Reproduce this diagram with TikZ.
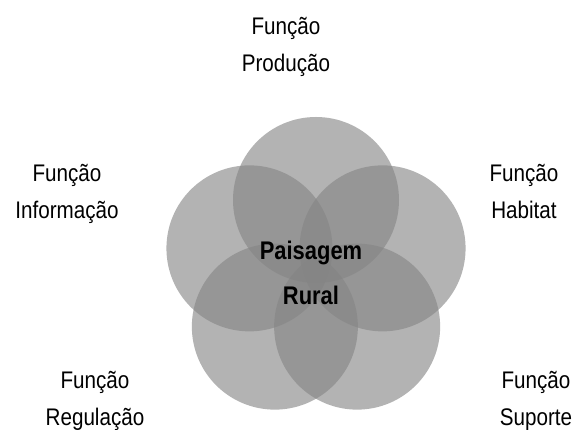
\documentclass[tikz,border=0pt]{standalone}
\usepackage{fontspec}
\setmainfont[FakeStretch=0.86]{Liberation Sans}
\definecolor{circgray}{RGB}{132,132,132}
\tikzset{
  func/.style={align=center, anchor=base, font=\fontsize{24}{37}\selectfont},
  centre/.style={align=center, anchor=base, font=\fontsize{25.5}{45}\selectfont\bfseries}
}

\begin{document}
\begin{tikzpicture}[x=1pt, y=1pt]
\useasboundingbox (0,0) rectangle (576,430);
\foreach \a in {90,162,234,306,18}
\fill[xshift=316pt, yshift=160pt, circgray, fill opacity=.62] (\a:70pt) circle (83pt);
\node[centre] (rural) at (311,125) {Paisagem\\Rural};
\node[func] (prod) at (286,358) {Função\\Produção};
\node[func] (info) at (67,211) {Função\\Informação};
\node[func] (hab) at (524,211) {Função\\Habitat};
\node[func] (reg) at (95,4) {Função\\Regulação};
\node[func] (sup) at (536,4) {Função\\Suporte};
\end{tikzpicture}
\end{document}
